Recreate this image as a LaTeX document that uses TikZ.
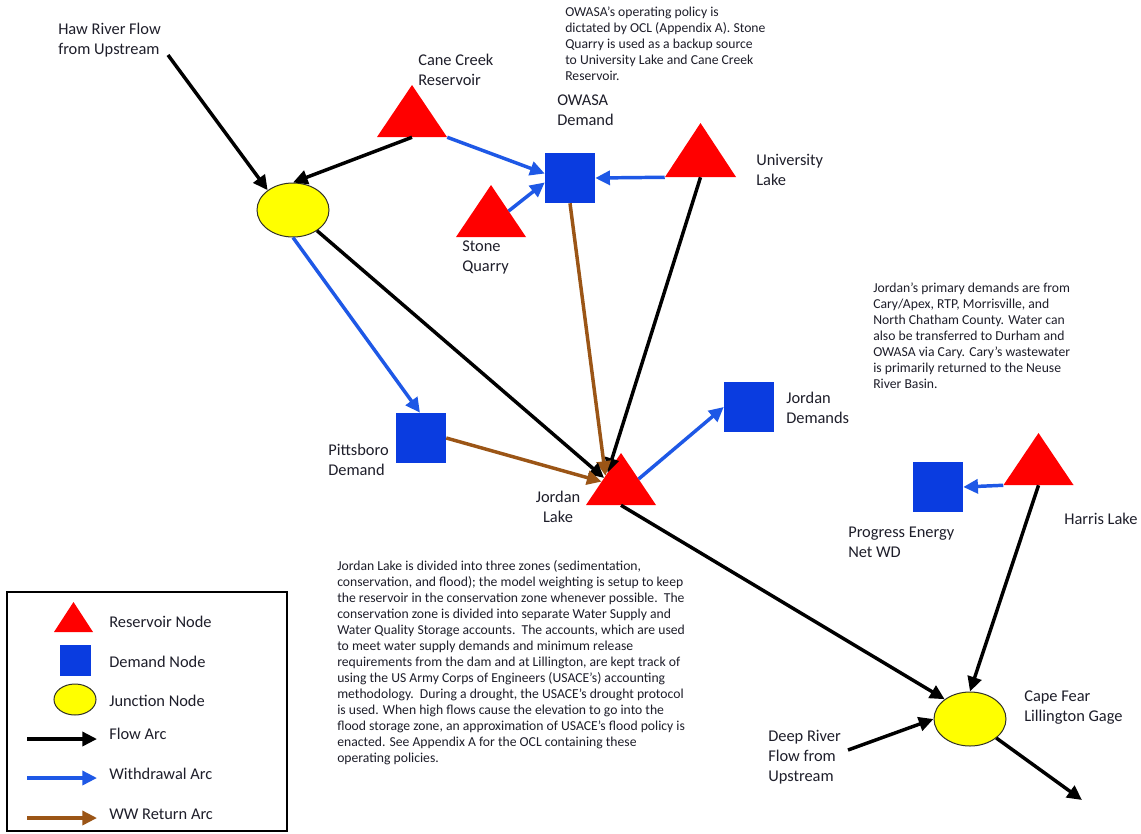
\documentclass[tikz,border=0pt]{standalone}
\usepackage{fontspec}
\setmainfont{Carlito}
\usetikzlibrary{arrows.meta,calc,shapes.geometric}
\definecolor{txt}{RGB}{30,30,42}
\definecolor{resred}{RGB}{255,0,0}
\definecolor{demblue}{RGB}{10,60,224}
\definecolor{wdblue}{RGB}{30,88,230}
\definecolor{wwbrown}{RGB}{155,85,22}
\definecolor{jnyellow}{RGB}{255,255,0}
\tikzset{
  tri/.style={draw=none, inner sep=0pt, minimum width=52.5pt, minimum height=39pt,
    path picture={\fill[resred] (path picture bounding box.south west) -- (path picture bounding box.south east) -- (path picture bounding box.north) -- cycle;}},
  dem/.style={fill=demblue, draw=none, inner sep=0pt, minimum size=37.5pt},
  jn/.style={ellipse, fill=jnyellow, draw={rgb,255:red,50;green,50;blue,40}, line width=0.75pt, inner sep=0pt, minimum width=54pt, minimum height=40.5pt},
  arc/.style={line width=2.6pt, -{Triangle[length=11pt,width=10.5pt]}},
  flow/.style={arc, draw=black},
  wd/.style={arc, draw=wdblue},
  ww/.style={arc, draw=wwbrown},
  lbl/.style={text=txt, font=\fontsize{12.3}{15}\selectfont, align=left, inner sep=0pt, anchor=west},
  note/.style={text=txt, font=\fontsize{10.25}{12}\selectfont, align=left, inner sep=0pt, anchor=west},
}
\begin{document}
\begin{tikzpicture}[x=0.75pt,y=-0.75pt]
\fill[white] (0,0) rectangle (1141,833);
\useasboundingbox (0,0) rectangle (1141,833);

% nodes
\node[jn] (j1) at (293,210) {};
\node[tri] (cc) at (412,111) {};
\node[dem] (ow) at (570,178) {};
\node[tri] (sq) at (491,211) {};
\node[tri, minimum width=53.25pt, minimum height=40.5pt] (ul) at (700.5,150) {};
\node[dem] (pb) at (421,438) {};
\node[tri] (jl) at (621,479) {};
\node[dem] (jd) at (749,407) {};
\node[dem] (pe) at (938,487) {};
\node[tri] (hl) at (1038.5,459) {};
\node[jn] (cf) at (970,719) {};
\coordinate (haw) at (168,55);
\coordinate (deep) at (848,750);
\coordinate (out) at (1082,800);

% labels
\node[lbl] (lhaw) at (58,40) {Haw River Flow\\from Upstream};
\node[lbl] (lcc) at (418,69.5) {Cane Creek\\Reservoir};
\node[lbl] (low) at (557,110) {OWASA\\Demand};
\node[lbl] (lsq) at (462,257) {Stone\\Quarry};
\node[lbl] (lul) at (756,170) {University\\Lake};
\node[lbl] (lpb) at (328,460) {Pittsboro\\Demand};
\node[lbl, align=center, anchor=center] (ljl) at (558,507) {Jordan\\Lake};
\node[lbl] (ljd) at (786,408) {Jordan\\Demands};
\node[lbl] (lpe) at (848,542) {Progress Energy\\Net WD};
\node[lbl] (lhl) at (1064,519) {Harris Lake};
\node[lbl] (lcf) at (1024,708) {Cape Fear\\Lillington Gage};
\node[lbl] (ldeep) at (768,757) {Deep River\\Flow from\\Upstream};

% notes
\node[note] (nowasa) at (565,44) {OWASA’s operating policy is\\dictated by OCL (Appendix A). Stone\\Quarry is used as a backup source\\to University Lake and Cane Creek\\Reservoir.};
\node[note] (njordan) at (873,336) {Jordan’s primary demands are from\\Cary/Apex, RTP, Morrisville, and\\North Chatham County. Water can\\also be transferred to Durham and\\OWASA via Cary. Cary’s wastewater\\is primarily returned to the Neuse\\River Basin.};
\node[note] (nlake) at (337,663) {Jordan Lake is divided into three zones (sedimentation,\\conservation, and flood); the model weighting is setup to keep\\the reservoir in the conservation zone whenever possible.\ \ The\\conservation zone is divided into separate Water Supply and\\Water Quality Storage accounts.\ \ The accounts, which are used\\to meet water supply demands and minimum release\\requirements from the dam and at Lillington, are kept track of\\using the US Army Corps of Engineers (USACE’s) accounting\\methodology.\ \ During a drought, the USACE’s drought protocol\\is used. When high flows cause the elevation to go into the\\flood storage zone, an approximation of USACE’s flood policy is\\enacted. See Appendix A for the OCL containing these\\operating policies.};

% connectors
\draw[flow] (haw) -- (j1.142);
\draw[flow] (cc.south) -- (j1.north);
\draw[wd] (cc.south east) -- (ow.170);
\draw[wd] ($(sq.south east)!0.5!(sq.north)$) -- (ow.190);
\draw[wd] (ul.south west) -- (ow.east);
\draw[flow] (ul.south) -- ($(jl.south west)!0.62!(jl.north)$);
\draw[ww] (ow.south) -- ($(jl.south west)!0.56!(jl.north)$);
\draw[flow] (j1) -- ($(jl.south west)!0.52!(jl.north)$);
\draw[ww] (pb.east) -- ($(jl.south west)!0.45!(jl.north)$);
\draw[wd] (j1.south) -- ($(pb.north west)!0.48!(pb.north east)$);
\draw[wd] ($(jl.south east)!0.5!(jl.north)$) -- (jd.west);
\draw[flow] (jl.south) -- (cf.142);
\draw[wd] (hl.south west) -- (pe.east);
\draw[flow] (hl.south) -- (cf.north);
\draw[flow] (deep) -- (cf.west);
\draw[flow] (cf) -- (out);

% legend
\node[draw=black, line width=1.5pt, minimum width=210pt, minimum height=179.25pt, inner sep=0pt] (legend) at (147,711.5) {};
\node[tri, minimum width=29.25pt, minimum height=22.5pt] (lgtri) at (73.5,617) {};
\node[dem, minimum size=23.25pt] (lgdem) at (75,660.5) {};
\node[jn, minimum width=31.5pt, minimum height=23.25pt] (lgjn) at (75,699.5) {};
\coordinate (lgf1) at (27,739); \coordinate (lgf2) at (97,739);
\coordinate (lgw1) at (27,778); \coordinate (lgw2) at (97,778);
\coordinate (lgr1) at (27,818); \coordinate (lgr2) at (97,818);
\draw[flow] (lgf1) -- (lgf2);
\draw[wd] (lgw1) -- (lgw2);
\draw[ww] (lgr1) -- (lgr2);
\node[lbl] (lgt1) at (109,622) {Reservoir Node};
\node[lbl] (lgt2) at (109,662) {Demand Node};
\node[lbl] (lgt3) at (109,701) {Junction Node};
\node[lbl] (lgt4) at (109,734) {Flow Arc};
\node[lbl] (lgt5) at (109,774) {Withdrawal Arc};
\node[lbl] (lgt6) at (109,814) {WW Return Arc};
\end{tikzpicture}
\end{document}
